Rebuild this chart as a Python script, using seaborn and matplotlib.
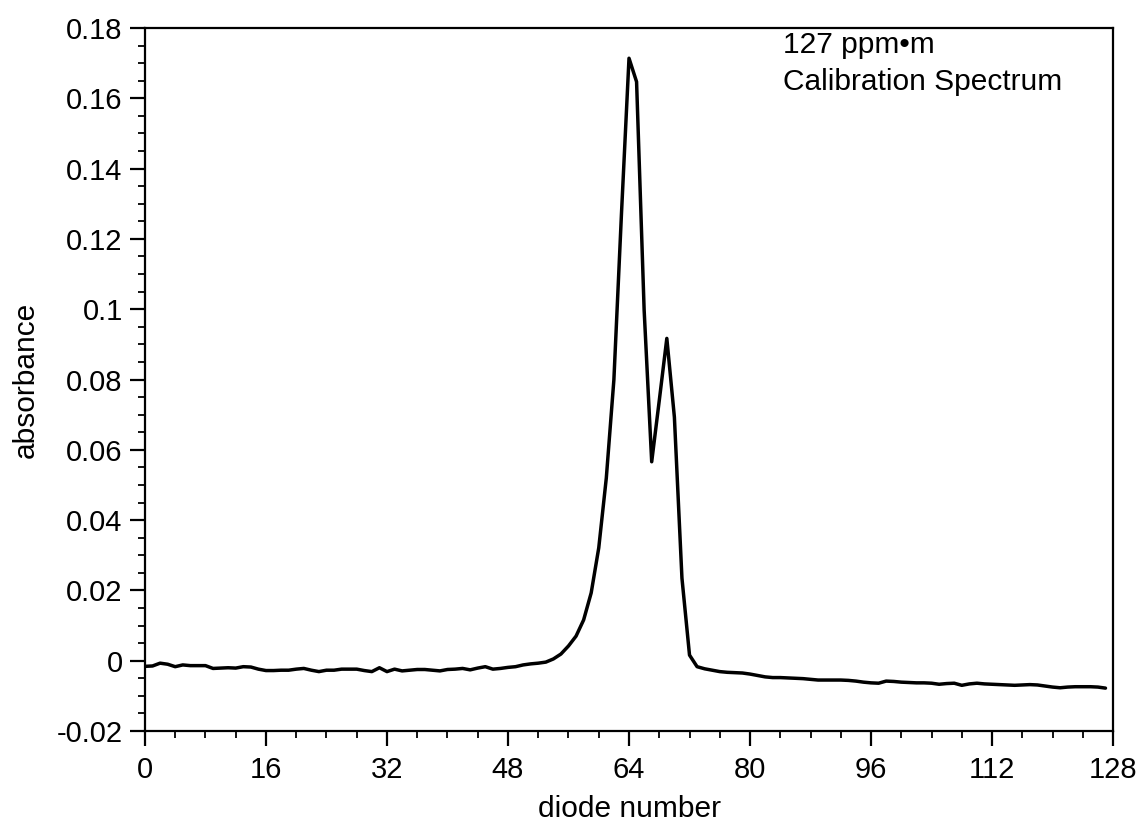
"""
Calibration spectrum: absorbance vs diode number (127 ppm*m).
"""

import matplotlib
matplotlib.use("Agg")
import matplotlib.pyplot as plt
from matplotlib.ticker import MultipleLocator
import pandas as pd
import seaborn as sns

# absorbance per diode (diodes 0..127)
baseline_left = [
    -0.0016, -0.0015, -0.0007, -0.0010, -0.0017, -0.0012, -0.0014, -0.0014,
    -0.0014, -0.0022, -0.0021, -0.0020, -0.0021, -0.0017, -0.0018, -0.0024,
    -0.0028, -0.0028, -0.0027, -0.0027, -0.0024, -0.0022, -0.0027, -0.0031,
    -0.0027, -0.0027, -0.0024, -0.0024, -0.0024, -0.0028, -0.0031, -0.0020,
    -0.0031, -0.0024, -0.0029, -0.0027, -0.0025, -0.0025, -0.0027, -0.0029,
    -0.0025, -0.0024, -0.0022, -0.0026, -0.0021, -0.0017, -0.0024, -0.0022,
    -0.0019, -0.0017, -0.0012, -0.0009,
]
peak_region = [
    -0.0007, -0.0004, 0.0005, 0.0019, 0.0042, 0.0070, 0.0116, 0.0193,
    0.0321, 0.0520, 0.0799, 0.1270, 0.1714, 0.1647, 0.0998, 0.0566,
    0.0740, 0.0917, 0.0693, 0.0235, 0.0016,
]
baseline_right = [
    -0.0017, -0.0023, -0.0027, -0.0031, -0.0033, -0.0034, -0.0035, -0.0038,
    -0.0042, -0.0046, -0.0048, -0.0048, -0.0049, -0.0050, -0.0051, -0.0053,
    -0.0055, -0.0055, -0.0055, -0.0055, -0.0056, -0.0058, -0.0061, -0.0063,
    -0.0064, -0.0058, -0.0059, -0.0061, -0.0062, -0.0063, -0.0063, -0.0064,
    -0.0067, -0.0065, -0.0064, -0.0070, -0.0066, -0.0064, -0.0066, -0.0067,
    -0.0068, -0.0069, -0.0070, -0.0069, -0.0068, -0.0069, -0.0072, -0.0075,
    -0.0077, -0.0075, -0.0074, -0.0074, -0.0074, -0.0075, -0.0078,
]
absorbance = baseline_left + peak_region + baseline_right
diode = list(range(len(absorbance)))

x_ticks = [0, 16, 32, 48, 64, 80, 96, 112, 128]
y_ticks = [-0.02, 0, 0.02, 0.04, 0.06, 0.08, 0.1, 0.12, 0.14, 0.16, 0.18]
y_tick_labels = ["-0.02", "0", "0.02", "0.04", "0.06", "0.08", "0.1",
                 "0.12", "0.14", "0.16", "0.18"]

annotation = ["127 ppm\u2022m", "Calibration Spectrum"]

sns.set_style("ticks")
plt.rcParams["font.family"] = ["Liberation Sans", "DejaVu Sans"]
plt.rcParams["text.color"] = "black"
plt.rcParams["axes.labelcolor"] = "black"

df = pd.DataFrame({"diode number": diode, "absorbance": absorbance})

fig = plt.figure(figsize=(11.45, 8.26), dpi=100)
ax = fig.add_axes([0.1266, 0.115, 0.8455, 0.8511])

sns.lineplot(data=df, x="diode number", y="absorbance", ax=ax,
             color="black", linewidth=2.5)

ax.set_xticks(x_ticks)
ax.set_xticklabels([str(t) for t in x_ticks])
ax.set_yticks(y_ticks)
ax.set_yticklabels(y_tick_labels)
ax.xaxis.set_minor_locator(MultipleLocator(4))
ax.yaxis.set_minor_locator(MultipleLocator(0.005))
ax.set_xlim(0, 128)
ax.set_ylim(-0.02, 0.18)

ax.tick_params(axis="both", which="major", direction="out", length=11,
               width=1.6, labelsize=21, colors="black")
ax.tick_params(axis="x", which="major", pad=7)
ax.tick_params(axis="y", which="major", pad=5)
ax.tick_params(axis="both", which="minor", direction="out", length=5,
               width=1.3, colors="black")

for side in ax.spines.values():
    side.set_linewidth(1.6)
    side.set_color("black")

ax.set_xlabel("diode number", fontsize=21.5, labelpad=8)
ax.set_ylabel("absorbance", fontsize=21.5, labelpad=12)

ax.text(84.4, 0.1752, annotation[0], fontsize=21.5, va="center", ha="left")
ax.text(84.4, 0.1646, annotation[1], fontsize=21.5, va="center", ha="left")

fig.savefig("out.png", dpi=100)
